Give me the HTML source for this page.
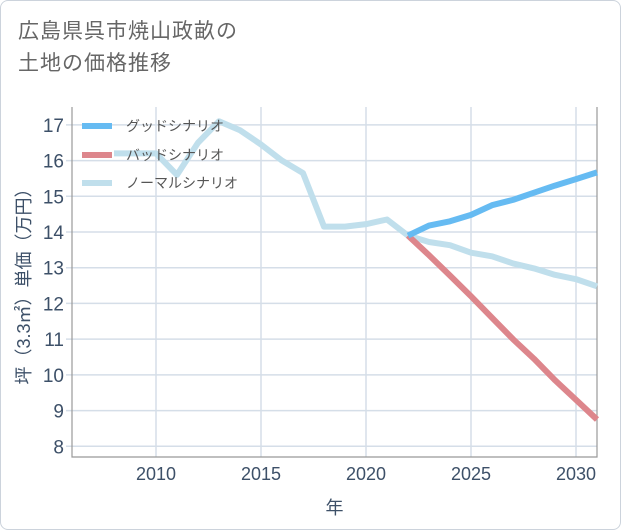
<!DOCTYPE html>
<html><head><meta charset="utf-8"><style>
body{margin:0;background:#fff;font-family:"Liberation Sans","Noto Sans CJK JP",sans-serif;}
#card{position:absolute;left:0;top:0;width:619px;height:528px;border:1px solid #ccd3dc;border-radius:8px;background:#fff;}
#title{position:absolute;left:18px;top:16px;font-size:21px;line-height:32px;color:#666;letter-spacing:1px;}
</style></head><body>
<div id="card"></div>
<div id="title">広島県呉市焼山政畝の<br>土地の価格推移</div>
<svg id="chart" width="621" height="530" style="position:absolute;left:0;top:0"></svg>
<script>
const yearsNormal=[2008,2009,2010,2011,2012,2013,2014,2015,2016,2017,2018,2019,2020,2021,2022,2023,2024,2025,2026,2027,2028,2029,2030,2031];
const normalValues=[16.2,16.2,16.2,15.6,16.5,17.1,16.85,16.45,16.0,15.65,14.15,14.15,14.22,14.35,13.9,13.72,13.63,13.42,13.32,13.12,12.98,12.8,12.68,12.48];
const yearsFuture=[2022,2023,2024,2025,2026,2027,2028,2029,2030,2031];
const goodValues=[13.9,14.18,14.3,14.48,14.75,14.9,15.1,15.3,15.48,15.67];
const badValues=[13.9,13.35,12.78,12.2,11.6,11.0,10.45,9.85,9.3,8.75];
const xTicks=[2010,2015,2020,2025,2030];
const yTicks=[8,9,10,11,12,13,14,15,16,17];
const NS="http://www.w3.org/2000/svg";
const svg=document.getElementById('chart');
const L=72,R=597,T=107,B=457,xmin=2006,xmax=2031,ymin=7.7,ymax=17.5;
const xs=v=>L+(v-xmin)/(xmax-xmin)*(R-L);
const ys=v=>B-(v-ymin)/(ymax-ymin)*(B-T);
function mk(tag,attrs){const e=document.createElementNS(NS,tag);for(const k in attrs)e.setAttribute(k,attrs[k]);svg.appendChild(e);return e;}
yTicks.forEach(v=>{
 const g=mk('line',{x1:L-6,x2:R,y1:ys(v),y2:ys(v),stroke:'#d5dee8','stroke-width':1.5});
 
 
 const t=mk('text',{x:L-8,y:ys(v)+7,'text-anchor':'end','font-size':19,fill:'#3d5068'});
 t.textContent=v;
 
 
});
xTicks.forEach(v=>{
 const g=mk('line',{x1:xs(v),x2:xs(v),y1:T,y2:B,stroke:'#d5dee8','stroke-width':1.5});
 
 
 const t=mk('text',{x:xs(v),y:B+23,'text-anchor':'middle','font-size':18,fill:'#3d5068'});
 t.textContent=v;
 
 
});
const ax=mk('path',{d:`M${L} ${T}V${B}H${R}V${T}`,fill:'none',stroke:'#999','stroke-width':1.2});


function series(xsArr,vals,color,name){
 const p=mk('polyline',{points:xsArr.map((x,i)=>xs(x)+','+ys(vals[i])).join(' '),fill:'none',stroke:color,'stroke-width':6,'stroke-linejoin':'round'});
 
 
}
series(yearsNormal,normalValues,'#c0dfec','normal-scenario-line');
series(yearsFuture,badValues,'#dd868c','bad-scenario-line');
series(yearsFuture,goodValues,'#66bbf2','good-scenario-line');
[['グッドシナリオ','#66bbf2',126],['バッドシナリオ','#dd868c',155],['ノーマルシナリオ','#c0dfec',183]].forEach(([lab,c,y])=>{
 const l=mk('line',{x1:82,x2:112,y1:y,y2:y,stroke:c,'stroke-width':6});
 
 
 const t=mk('text',{x:126,y:y+5,'font-size':14,fill:'#555'});
 t.textContent=lab;
 
 
});
const yt=mk('text',{x:0,y:0,'font-size':18,fill:'#3d5068','text-anchor':'middle',transform:`translate(30,${(T+B)/2}) rotate(-90)`});
yt.textContent='坪（3.3㎡）単価（万円）';


const xt=mk('text',{x:(L+R)/2,y:514,'font-size':18,fill:'#3d5068','text-anchor':'middle'});
xt.textContent='年';


</script>
</body></html>
